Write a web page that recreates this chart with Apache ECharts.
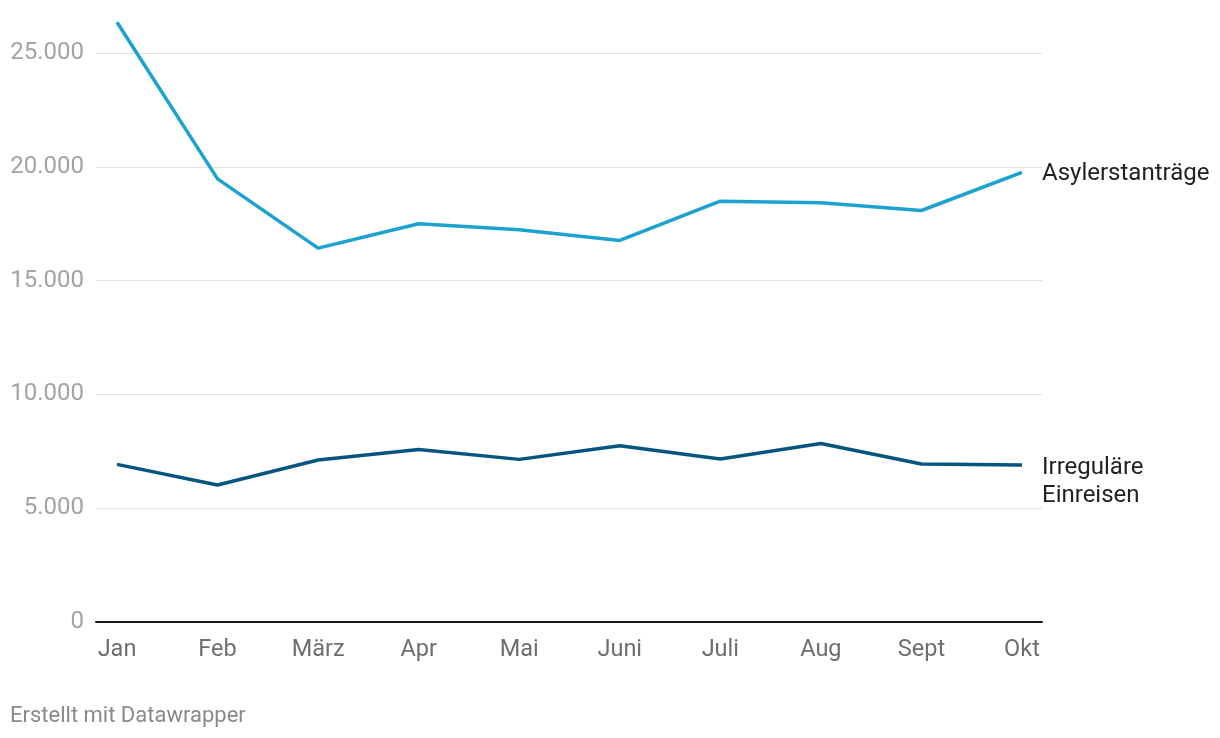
<!DOCTYPE html>
<html>
<head>
<meta charset="utf-8">
<script src="https://cdn.jsdelivr.net/npm/echarts@6/dist/echarts.min.js"></script>
<style>
html,body{margin:0;padding:0;background:#fff;}
#c{width:1220px;height:738px;}
</style>
</head>
<body>
<div id="c"></div>
<script>
const months = ['Jan','Feb','März','Apr','Mai','Juni','Juli','Aug','Sept','Okt'];
const asylName = 'Asylerstanträge';
const asylValues = [26350, 19470, 16425, 17500, 17230, 16765, 18490, 18420, 18080, 19760];
const irregName = 'Irreguläre\nEinreisen';
const irregValues = [6925, 6020, 7115, 7580, 7145, 7740, 7160, 7845, 6940, 6895];
const yTicks = [0, 5000, 10000, 15000, 20000, 25000];
const footer = 'Erstellt mit Datawrapper';

const FONT = 'Roboto, "Noto Sans", sans-serif';
const fmt = v => String(v).replace(/\B(?=(\d{3})+(?!\d))/g, '.');

const chart = echarts.init(document.getElementById('c'), null, {renderer:'canvas'});
chart.setOption({
  animation:false,
  backgroundColor:'#ffffff',
  textStyle:{fontFamily:FONT},
  grid:[
    {left:96, right:178, top:53, bottom:116},
    {left:117, right:198, top:53, bottom:116}
  ],
  xAxis:[
    {gridIndex:0, type:'value', min:0, max:1,
     axisLine:{show:true, lineStyle:{color:'#1a1a1a', width:2}},
     axisTick:{show:false}, axisLabel:{show:false}, splitLine:{show:false}},
    {gridIndex:1, type:'category', data:months, boundaryGap:false,
     axisLine:{show:false}, axisTick:{show:false}, splitLine:{show:false},
     axisLabel:{color:'#6e6e6e', fontSize:23.5, fontFamily:FONT, margin:16, interval:0}}
  ],
  yAxis:[
    {gridIndex:0, type:'value', min:yTicks[0], max:yTicks[yTicks.length-1], interval:yTicks[1]-yTicks[0],
     axisLine:{show:false}, axisTick:{show:false},
     splitLine:{show:true, lineStyle:{color:'#e0e0e0', width:1}},
     axisLabel:{color:'#a3a3a3', fontSize:24, fontFamily:FONT, margin:12, padding:[4,0,0,0], formatter:fmt}},
    {gridIndex:1, type:'value', min:yTicks[0], max:yTicks[yTicks.length-1], interval:yTicks[1]-yTicks[0], show:false}
  ],
  series:[
    {name:asylName, type:'line', xAxisIndex:1, yAxisIndex:1, data:asylValues,
     clip:false, symbol:'none', lineStyle:{color:'#1ba2cf', width:3.5}, itemStyle:{color:'#1ba2cf'},
     endLabel:{show:true, formatter:'{a}', color:'#222222', fontSize:24, fontFamily:FONT, distance:20, offset:[0,2]}},
    {name:irregName, type:'line', xAxisIndex:1, yAxisIndex:1, data:irregValues,
     clip:false, symbol:'none', lineStyle:{color:'#05557f', width:3.5}, itemStyle:{color:'#05557f'},
     endLabel:{show:true, formatter:'{a}', color:'#222222', fontSize:24, lineHeight:28, fontFamily:FONT, distance:20, offset:[0,17]}}
  ],
  graphic:[
    {type:'text', left:10, top:705, style:{text:footer, fill:'#8a8a8a', font:'22px '+FONT}}
  ]
});
</script>
</body>
</html>
